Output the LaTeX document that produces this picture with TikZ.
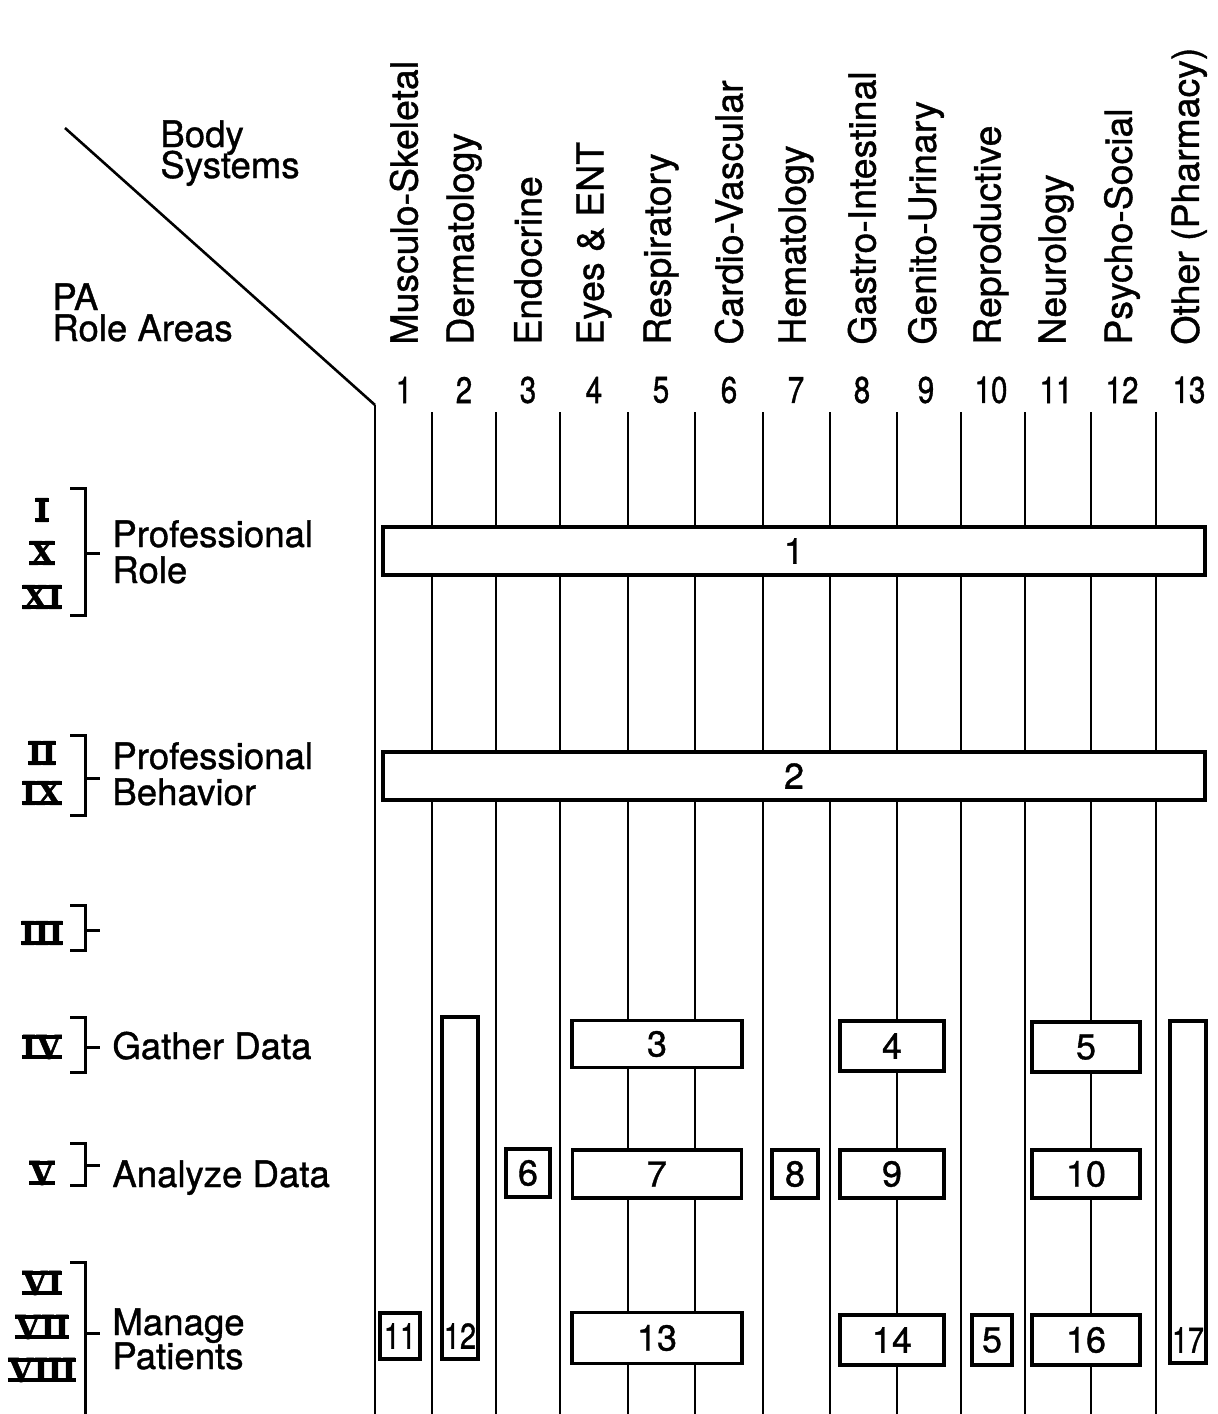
\documentclass[tikz,border=0pt]{standalone}
\usepackage{fontspec}
\setmainfont{TeX Gyre Heros}[FakeBold=1]
\newfontfamily\romfont{Liberation Serif}[FakeBold=1.5]
\newfontfamily\narrowfont{TeX Gyre Heros}[FakeStretch=0.8, FakeBold=1]

% roman numeral with a bar along its top and its foot
\newcommand\romnum[1]{\setbox0=\hbox{#1}%
  \rlap{\rule{\wd0}{1.8pt}}%
  \rlap{\raise\dimexpr\ht0-1.8pt\relax\hbox{\rule{\wd0}{1.8pt}}}\box0}

\tikzset{
  grid line/.style={line width=1.3pt},
  bracket/.style={line width=1.5pt},
  cell/.style={draw, line width=1.7pt, fill=white, inner sep=0pt,
    font=\fontsize{18}{20}\selectfont},
  lbl/.style={font=\fontsize{18.3}{20}\selectfont, inner sep=0pt},
  syslbl/.style={font=\fontsize{18.7}{20}\selectfont, inner sep=0pt},
  roman/.style={font=\romfont\bfseries\fontsize{18}{20}\selectfont, inner sep=0pt},
  colnum/.style={font=\narrowfont\fontsize{18.5}{20}\selectfont, inner sep=0pt},
}

\begin{document}
\begin{tikzpicture}[x=0.5pt, y=-0.5pt]
  \useasboundingbox (0,0) rectangle (1217,1414);

  % corner: diagonal with both headings
  \coordinate (diagA) at (65,128);
  \coordinate (diagB) at (375,405);
  \draw[grid line] (diagA) -- (diagB);
  \node[lbl, anchor=base west] (body) at (160,147) {Body};
  \node[lbl, anchor=base west] (systems) at (160,178) {Systems};
  \node[lbl, anchor=base west] (pa) at (52,310) {PA};
  \node[lbl, anchor=base west] (roleareas) at (52,341) {Role Areas};

  % vertical grid lines between the body systems
  \draw[grid line] (diagB) -- (375,1414);
  \foreach \lx in {432,496,560,628,695,763,830,897,961,1025,1091,1156}
    \draw[grid line] (\lx,412) -- (\lx,1414);

  % column heads and numbers
  \foreach \n/\cx/\sys in {1/404/Musculo-Skeletal, 2/464/Dermatology,
      3/528/Endocrine, 4/594/Eyes \& ENT, 5/661/Respiratory,
      6/729/Cardio-Vascular, 7/796/Hematology, 8/862/Gastro-Intestinal,
      9/926/Genito-Urinary, 10/991/Reproductive, 11/1056/Neurology,
      12/1122/Psycho-Social, 13/1189/Other (Pharmacy)} {
    \node[syslbl, rotate=90, anchor=west] (sys\n) at (\cx,345) {\sys};
    \node[colnum] (no\n) at (\cx,390) {\n};
  }

  % role areas on the left
  \node[roman] (rI) at (42,510) {\romnum{I}};
  \node[roman] (rX) at (42,553) {\romnum{X}};
  \node[roman] (rXI) at (42,597) {\romnum{XI}};
  \draw[bracket] (70,488) -- (85,488) -- (85,615) -- (70,615) (85,553) -- (100,553);
  \node[lbl, anchor=base west] (prof1) at (112,547) {Professional};
  \node[lbl, anchor=base west] (role) at (112,583) {Role};

  \node[roman] (rII) at (42,753) {\romnum{II}};
  \node[roman] (rIX) at (42,793) {\romnum{IX}};
  \draw[bracket] (70,735) -- (85,735) -- (85,815) -- (70,815) (85,778) -- (100,778);
  \node[lbl, anchor=base west] (prof2) at (112,769) {Professional};
  \node[lbl, anchor=base west] (behavior) at (112,805) {Behavior};

  \node[roman] (rIII) at (42,933) {\romnum{III}};
  \draw[bracket] (70,905) -- (85,905) -- (85,950) -- (70,950) (85,930) -- (100,930);

  \node[roman] (rIV) at (42,1047) {\romnum{IV}};
  \draw[bracket] (70,1017) -- (85,1017) -- (85,1072) -- (70,1072) (85,1047) -- (100,1047);
  \node[lbl, anchor=base west] (gather) at (112,1059) {Gather Data};

  \node[roman] (rV) at (42,1173) {\romnum{V}};
  \draw[bracket] (70,1143) -- (85,1143) -- (85,1185) -- (70,1185) (85,1165) -- (100,1165);
  \node[lbl, anchor=base west] (analyze) at (112,1187) {Analyze Data};

  \node[roman] (rVI) at (42,1283) {\romnum{VI}};
  \node[roman] (rVII) at (42,1327) {\romnum{VII}};
  \node[roman] (rVIII) at (42,1370) {\romnum{VIII}};
  \draw[bracket] (70,1262) -- (85,1262) -- (85,1414) (85,1333) -- (100,1333);
  \node[lbl, anchor=base west] (manage) at (112,1335) {Manage};
  \node[lbl, anchor=base west] (patients) at (112,1369) {Patients};

  % bars across all systems
  \node[cell, minimum width=411pt, minimum height=24pt] (b1) at (794,551) {1};
  \node[cell, minimum width=411pt, minimum height=24pt] (b2) at (794,776) {2};

  % gather data
  \node[cell, minimum width=85pt, minimum height=23.5pt] (b3) at (657,1044) {3};
  \node[cell, minimum width=52pt, minimum height=25pt] (b4) at (892,1046) {4};
  \node[cell, minimum width=54pt, minimum height=25pt] (b5) at (1086,1047) {5};

  % analyze data
  \node[cell, minimum width=22pt, minimum height=24pt] (b6) at (528,1173) {6};
  \node[cell, minimum width=84.5pt, minimum height=24pt] (b7) at (657,1174) {7};
  \node[cell, minimum width=23pt, minimum height=24pt] (b8) at (795,1174) {8};
  \node[cell, minimum width=52pt, minimum height=24pt] (b9) at (892,1174) {9};
  \node[cell, minimum width=54pt, minimum height=24pt] (b10) at (1086,1174) {10};

  % manage patients
  \node[cell, minimum width=20pt, minimum height=23pt, font=\narrowfont\fontsize{18}{20}\selectfont] (b11) at (400,1336) {11};
  \node[cell, minimum width=18pt, minimum height=171pt] (b12) at (460,1188) {};
  \node[inner sep=0pt, font=\narrowfont\fontsize{18}{20}\selectfont] (t12) at (460,1336) {12};
  \node[cell, minimum width=85pt, minimum height=25.5pt] (b13) at (657,1338) {13};
  \node[cell, minimum width=52pt, minimum height=25pt] (b14) at (892,1340) {14};
  \node[cell, minimum width=20pt, minimum height=25pt] (b15) at (992,1340) {5};
  \node[cell, minimum width=54pt, minimum height=25pt] (b16) at (1086,1340) {16};
  \node[cell, minimum width=18pt, minimum height=171pt] (b17) at (1188,1192) {};
  \node[inner sep=0pt, font=\narrowfont\fontsize{18}{20}\selectfont] (t17) at (1188,1340) {17};
\end{tikzpicture}
\end{document}
